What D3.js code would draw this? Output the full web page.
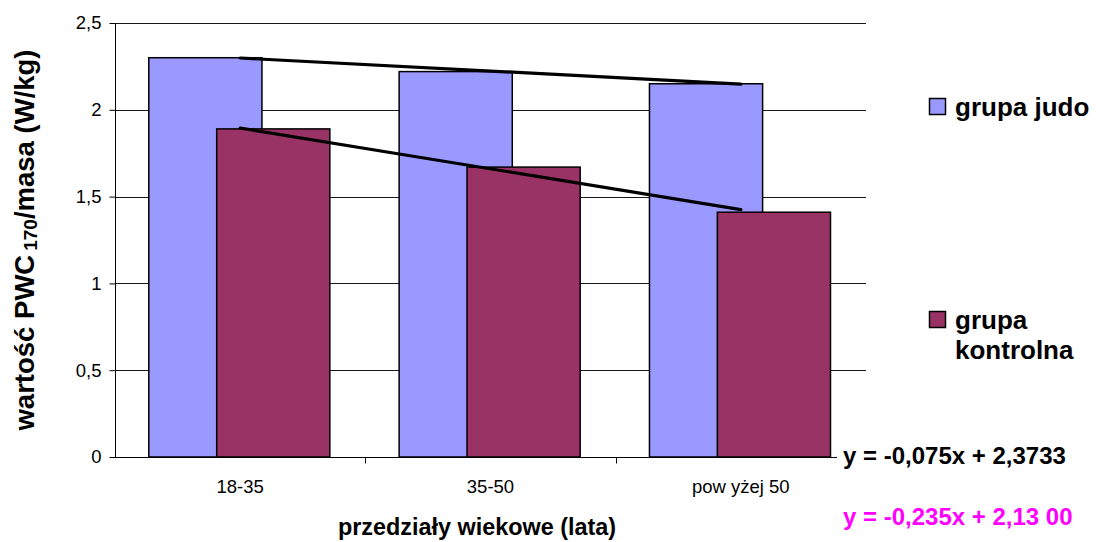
<!DOCTYPE html>
<html>
<head>
<meta charset="utf-8">
<script src="https://cdn.jsdelivr.net/npm/d3@7"></script>
<style>
  html, body { margin: 0; padding: 0; background: #fff; }
  svg { display: block; font-family: Arial, "Liberation Sans", sans-serif; }
</style>
</head>
<body>
<svg id="chart" width="1104" height="542"></svg>
<script>
// Age brackets and PWC170 per body mass (W/kg)
const categories = ["18-35", "35-50", "pow yżej 50"];
const judoValues = [2.30, 2.22, 2.15];
const controlValues = [1.89, 1.67, 1.41];
const seriesNames = ["grupa judo", "grupa kontrolna"];
const yTicks = [0, 0.5, 1, 1.5, 2, 2.5];
const yTickLabels = ["0", "0,5", "1", "1,5", "2", "2,5"];
// Linear trend coefficients (x = 1..3)
const trendSlopes = [-0.075, -0.235];
const trendIntercepts = [2.3733, 2.13];
const trendLabels = ["y = -0,075x + 2,3733", "y = -0,235x + 2,13 00"];

const svg = d3.select("#chart");
const plot = { left: 115, right: 866, top: 23, bottom: 457 };
const colors = ["#9999FF", "#993366"];
const labelColors = ["#000000", "#FF00FF"];

const x = d3.scaleBand().domain(categories).range([plot.left, plot.right]).padding(0);
const y = d3.scaleLinear().domain([0, 2.5]).range([plot.bottom, plot.top]);
const bw = x.bandwidth();
const barW = bw * 0.452;
const gapL = bw * 0.135;
const step = barW * 0.6;

// horizontal gridlines
svg.append("g").selectAll("line").data(yTicks.filter(d => d > 0)).join("line")
  .attr("x1", plot.left).attr("x2", plot.right)
  .attr("y1", d => Math.round(y(d)) + 0.5).attr("y2", d => Math.round(y(d)) + 0.5)
  .attr("stroke", "#1a1a1a").attr("stroke-width", 1);

// bars: judo first, control group drawn over it
const series = [judoValues, controlValues];
series.forEach((vals, s) => {
  svg.append("g").selectAll("rect").data(categories).join("rect")
    .attr("x", d => x(d) + gapL + s * step)
    .attr("y", (d, i) => y(vals[i]))
    .attr("width", barW)
    .attr("height", (d, i) => y(0) - y(vals[i]))
    .attr("fill", colors[s])
    .attr("stroke", "#000").attr("stroke-width", 1.5);
});

// trendlines
const cx = i => x(categories[i - 1]) + bw / 2;
trendSlopes.forEach((m, s) => {
  const b = trendIntercepts[s];
  svg.append("line")
    .attr("x1", cx(1)).attr("y1", y(m * 1 + b))
    .attr("x2", cx(3)).attr("y2", y(m * 3 + b))
    .attr("stroke", "#000").attr("stroke-width", 3.2).attr("stroke-linecap", "round");
});

// y axis
const yAxis = d3.axisLeft(y).tickValues(yTicks).tickFormat((d, i) => yTickLabels[i]).tickSize(6).tickPadding(8);
const gy = svg.append("g").attr("transform", `translate(${plot.left + 0.5},0)`).call(yAxis);
gy.select(".domain").attr("stroke", "#000").attr("d", `M0,${plot.bottom}V${plot.top}`);
gy.selectAll(".tick line").attr("stroke", "#000");
gy.selectAll(".tick text").attr("font-size", 18.5).attr("fill", "#000")
  .attr("font-family", "Arial, 'Liberation Sans', sans-serif");

// x axis
const gx = svg.append("g").attr("transform", `translate(0,${plot.bottom + 0.5})`);
gx.append("line").attr("x1", plot.left).attr("x2", plot.right).attr("stroke", "#000");
gx.selectAll(".tk").data(categories.slice(1)).join("line").attr("class", "tk")
  .attr("x1", d => Math.round(x(d)) + 0.5).attr("x2", d => Math.round(x(d)) + 0.5)
  .attr("y1", 0).attr("y2", 6).attr("stroke", "#000");
gx.selectAll("text").data(categories).join("text")
  .attr("x", d => x(d) + bw / 2).attr("y", 35)
  .attr("text-anchor", "middle").attr("font-size", 18.5).text(d => d);

// axis titles
svg.append("text").attr("x", 477).attr("y", 535).attr("text-anchor", "middle")
  .attr("font-size", 23.4).attr("font-weight", "bold").text("przedziały wiekowe (lata)");

const yt = svg.append("text").attr("transform", "translate(34,240) rotate(-90)")
  .attr("text-anchor", "middle").attr("font-size", 27.5).attr("font-weight", "bold");
yt.append("tspan").text("wartość PWC");
yt.append("tspan").attr("font-size", 19).attr("dx", 4).attr("dy", 3).text("170");
yt.append("tspan").attr("dy", -3).text("/masa (W/kg)");

// trend equations
const eqY = [464, 525];
trendLabels.forEach((t, s) => {
  if (s === 0) {
    svg.append("rect").attr("x", 837).attr("y", eqY[s] - 20).attr("width", 240).attr("height", 26).attr("fill", "#fff");
  }
  svg.append("text").attr("x", 843).attr("y", eqY[s])
    .attr("font-size", 24).attr("font-weight", "bold").attr("fill", labelColors[s]).text(t);
});

// legend
const legend = [
  { sy: 98, lines: [seriesNames[0]], ty: [116] },
  { sy: 311, lines: ["grupa", "kontrolna"], ty: [329, 359] }
];
legend.forEach((l, s) => {
  svg.append("rect").attr("x", 929.5).attr("y", l.sy + 0.5).attr("width", 16).attr("height", 16)
    .attr("fill", colors[s]).attr("stroke", "#000").attr("stroke-width", 1.5);
  l.lines.forEach((line, j) => {
    svg.append("text").attr("x", 955).attr("y", l.ty[j])
      .attr("font-size", 26).attr("font-weight", "bold").text(line);
  });
});
</script>
</body>
</html>
